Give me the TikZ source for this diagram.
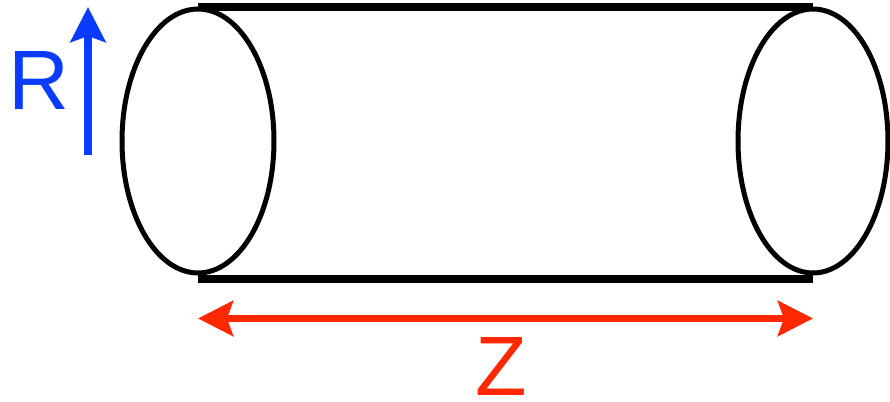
\documentclass[tikz,border=0pt]{standalone}
\usepackage{fontspec}
\setmainfont{Liberation Sans}
\usetikzlibrary{shapes.geometric, arrows.meta}
\definecolor{rblue}{RGB}{10,60,255}
\definecolor{zred}{RGB}{255,40,0}
\tikzset{
    endcap/.style={ellipse, draw=black, line width=0.1cm, minimum width=3.04cm, minimum height=5.28cm, inner sep=0pt},
    wall/.style={line width=0.16cm},
    axisarrow/.style={line width=0.15cm, -{Stealth[length=0.7cm, width=0.7cm, inset=0.12cm]}},
    dimarrow/.style={line width=0.15cm, {Stealth[length=0.7cm, width=0.7cm, inset=0.12cm]}-{Stealth[length=0.7cm, width=0.7cm, inset=0.12cm]}},
    axislabel/.style={font=\fontsize{48}{48}\selectfont, inner sep=0pt}
}

\begin{document}
\begin{tikzpicture}[x=0.02cm, y=-0.02cm]
    \useasboundingbox (0,0) rectangle (890,402);
    \node (left) [endcap] at (198,141) {};
    \node (right) [endcap, minimum width=3.0cm] at (813,141) {};
    \draw [wall] (left.north) -- (right.north);
    \draw [wall] ([yshift=-0.08cm]left.south) -- ([yshift=-0.08cm]right.south);

    \coordinate (rfoot) at (88,155);
    \coordinate (rtip) at (88,7);
    \draw [axisarrow, rblue] (rfoot) -- (rtip);
    \node (rlabel) [axislabel, text=rblue] at (39,80.5) {R};

    \coordinate (zleft) at ([yshift=-0.86cm]left.south);
    \coordinate (zright) at ([yshift=-0.86cm]right.south);
    \draw [dimarrow, zred] (zleft) -- (zright);
    \node (zlabel) [axislabel, text=zred] at (501,366) {Z};
\end{tikzpicture}
\end{document}
